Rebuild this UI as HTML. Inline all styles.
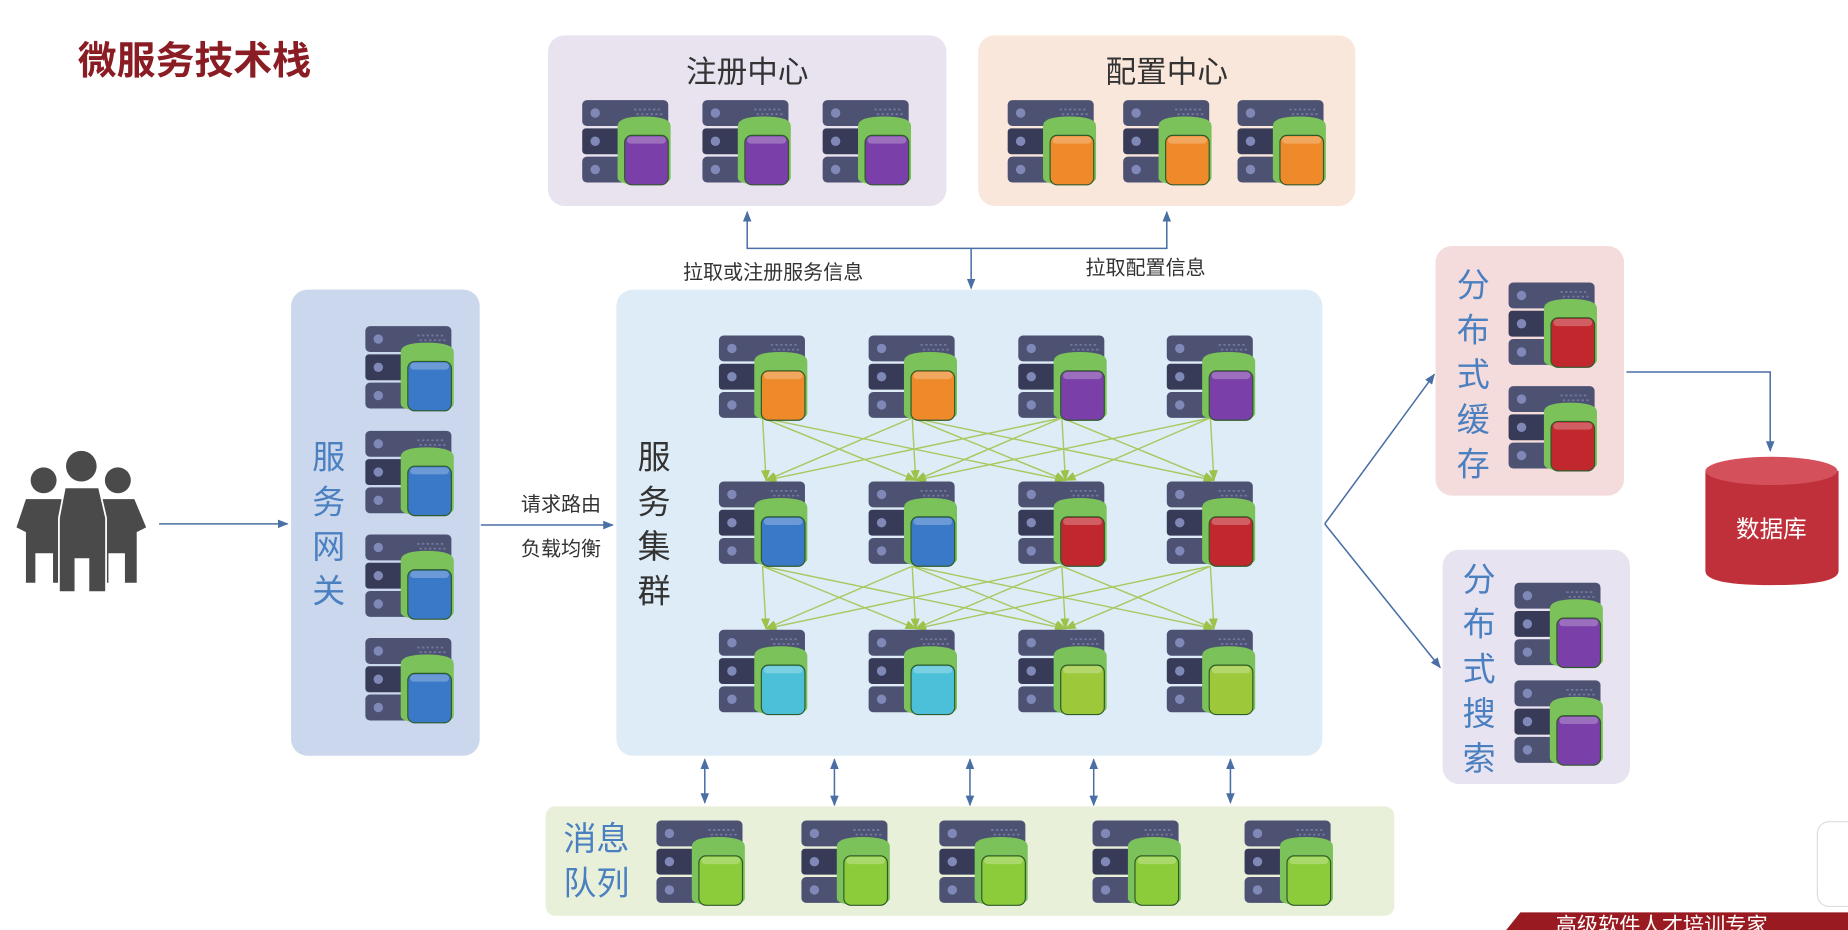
<!DOCTYPE html>
<html><head><meta charset="utf-8"><style>
html,body{margin:0;padding:0;background:#fff;overflow:hidden}
svg{display:block}
text{font-family:"Liberation Sans","Noto Sans CJK SC",sans-serif}
</style></head><body>
<svg id="s" width="1848" height="930" viewBox="0 0 1568 790" preserveAspectRatio="none" xmlns="http://www.w3.org/2000/svg">
<defs>
<marker id="ab" viewBox="0 0 10 10" refX="9" refY="5" markerWidth="7" markerHeight="7" orient="auto-start-reverse"><path d="M0,1 L10,5 L0,9 z" fill="#4a6fa5"/></marker>
<marker id="ag" viewBox="0 0 10 10" refX="9" refY="5" markerWidth="8" markerHeight="8" orient="auto"><path d="M0,1 L10,5 L0,9 z" fill="#9cc24a"/></marker>
<symbol id="srv" viewBox="0 0 76 74" overflow="visible">
<rect x="0" y="0" width="73" height="22" rx="4" fill="#4d5273"/>
<rect x="0" y="24" width="73" height="22" rx="3" fill="#373b57"/>
<rect x="0" y="48" width="73" height="22" rx="4" fill="#4d5273"/>
<circle cx="11" cy="11" r="4" fill="#8088b8"/><circle cx="11" cy="35" r="4" fill="#8088b8"/><circle cx="11" cy="59" r="4" fill="#8088b8"/>
<path d="M44 8h24M46 12h22" stroke="#7078a0" stroke-width="1.5" stroke-dasharray="2 2"/>
<path d="M30 22 Q30 14 52 14 Q75 14 75 22 V66 Q75 72 52 72 Q30 72 30 66 Z" fill="#7cc25a"/>
<rect x="36" y="30" width="37" height="42" rx="6" fill="currentColor" stroke="#2f5a2a" stroke-width="1"/>
<rect x="38" y="31" width="33" height="6" rx="3" fill="#fff" opacity=".25"/>
</symbol>
</defs>
<text x="66" y="63" font-size="33" font-weight="bold" fill="#8a1c24">微服务技术栈</text>
<rect x="465" y="30" width="338" height="145" rx="14" fill="#e9e3f0"/>
<rect x="830" y="30" width="320" height="145" rx="14" fill="#fae7db"/>
<rect x="247" y="246" width="160" height="396" rx="14" fill="#cad7ed"/>
<rect x="523" y="246" width="599" height="396" rx="14" fill="#ddecf6"/>
<rect x="1218" y="209" width="160" height="212" rx="14" fill="#f4dcdc"/>
<rect x="1224" y="467" width="159" height="199" rx="14" fill="#e8e3f0"/>
<rect x="463" y="685" width="720" height="93" rx="8" fill="#e9f0da"/>
<text x="634" y="70" font-size="26" fill="#333" text-anchor="middle">注册中心</text>
<text x="990" y="70" font-size="26" fill="#333" text-anchor="middle">配置中心</text>
<g font-size="28" fill="#4a7fc0" text-anchor="middle">
<text x="279" y="398">服</text><text x="279" y="436">务</text><text x="279" y="474">网</text><text x="279" y="512">关</text>
<text x="1250" y="252">分</text><text x="1250" y="290">布</text><text x="1250" y="328">式</text><text x="1250" y="366">缓</text><text x="1250" y="404">存</text>
<text x="1255" y="502">分</text><text x="1255" y="540">布</text><text x="1255" y="578">式</text><text x="1255" y="616">搜</text><text x="1255" y="654">索</text>
</g>
<g font-size="28" fill="#333" text-anchor="middle">
<text x="555" y="398">服</text><text x="555" y="436">务</text><text x="555" y="474">集</text><text x="555" y="512">群</text>
</g>
<g font-size="28" fill="#4a7fc0"><text x="478" y="722">消息</text><text x="478" y="760">队列</text></g>
<g font-size="17" fill="#333" text-anchor="middle">
<text x="476" y="434">请求路由</text><text x="476" y="472">负载均衡</text>
<text x="656" y="237">拉取或注册服务信息</text><text x="972" y="233">拉取配置信息</text>
</g>
<g stroke="#4a6fa5" stroke-width="1.3" fill="none">
<line x1="135" y1="445" x2="244" y2="445" marker-end="url(#ab)"/>
<line x1="408" y1="446" x2="520" y2="446" marker-end="url(#ab)"/>
<line x1="824" y1="211" x2="824" y2="245" marker-end="url(#ab)"/>
<polyline points="634,180 634,211 990,211 990,180" marker-start="url(#ab)" marker-end="url(#ab)"/>
<line x1="1124" y1="445" x2="1217" y2="318" marker-end="url(#ab)"/>
<line x1="1124" y1="445" x2="1222" y2="567" marker-end="url(#ab)"/>
<polyline points="1380,316 1502,316 1502,383" marker-end="url(#ab)"/>
<line x1="598" y1="645" x2="598" y2="682" marker-start="url(#ab)" marker-end="url(#ab)"/>
<line x1="708" y1="645" x2="708" y2="684" marker-start="url(#ab)" marker-end="url(#ab)"/>
<line x1="823" y1="645" x2="823" y2="684" marker-start="url(#ab)" marker-end="url(#ab)"/>
<line x1="928" y1="645" x2="928" y2="684" marker-start="url(#ab)" marker-end="url(#ab)"/>
<line x1="1044" y1="645" x2="1044" y2="682" marker-start="url(#ab)" marker-end="url(#ab)"/>
</g>
<g id="gl" stroke="#a8c860" stroke-width="1.2"></g>
<g id="sv"></g>
<g fill="#c0303a">
<path d="M1447 400 V485 Q1447 497 1503 497 Q1560 497 1560 485 V400 Z"/>
<ellipse cx="1503" cy="400" rx="56" ry="12" fill="#d4505a"/>
</g>
<text x="1503" y="456" font-size="20" fill="#fff" text-anchor="middle">数据库</text>
<g fill="#4a4a4a">
<circle cx="37" cy="408" r="11"/><circle cx="100" cy="408" r="11"/><circle cx="69" cy="396" r="13"/>
<path d="M14 448 L22 424 H52 L58 448 V495 H45 V470 H30 V495 H22 V452 Z"/>
<path d="M77 448 L83 424 H114 L124 448 L116 452 V495 H106 V470 H92 V495 H82 Z"/>
<path d="M50 440 L55 414 H84 L90 440 V503 H75 V475 H64 V503 H50 Z" stroke="#fff" stroke-width="1.5"/>
</g>
<polygon points="1290,775 1568,775 1568,790 1278,790" fill="#9a1a22"/>
<text x="1320" y="792" font-size="18" fill="#fff">高级软件人才培训专家</text>
<rect x="1542" y="698" width="40" height="72" rx="10" fill="#fff" stroke="#ddd"/>
</svg>
<script>
var NS="http://www.w3.org/2000/svg",sv=document.getElementById("sv"),gl=document.getElementById("gl");
function s(x,y,c){var u=document.createElementNS(NS,"use");u.setAttribute("href","#srv");u.setAttribute("x",x);u.setAttribute("y",y);u.setAttribute("width",76);u.setAttribute("height",74);u.setAttribute("style","color:"+c);sv.appendChild(u);}
var P="#7a3fa8",O="#ee8a2a",B="#3a78c8",R="#c0282e",C="#4cc0d8",L="#9cc83a",G="#8ccc3a";
[494,596,698].forEach(function(x){s(x,85,P)});
[855,953,1050].forEach(function(x){s(x,85,O)});
[277,366,454,542].forEach(function(y){s(310,y,B)});
var cols=[610,737,864,990],rows=[285,409,535],cc=[[O,O,P,P],[B,B,R,R],[C,C,L,L]];
rows.forEach(function(y,r){cols.forEach(function(x,i){s(x,y,cc[r][i])})});
s(1280,240,R);s(1280,328,R);s(1285,495,P);s(1285,578,P);
[557,680,797,927,1056].forEach(function(x){s(x,697,G)});
[[355,408],[481,534]].forEach(function(l){for(var i=0;i<4;i++)for(var j=0;j<4;j++){if(Math.abs(i-j)>2)continue;var a=document.createElementNS(NS,"line");a.setAttribute("x1",cols[i]+37);a.setAttribute("y1",l[0]);a.setAttribute("x2",cols[j]+40);a.setAttribute("y2",l[1]);a.setAttribute("marker-end","url(#ag)");gl.appendChild(a);}});
</script>
</body></html>
